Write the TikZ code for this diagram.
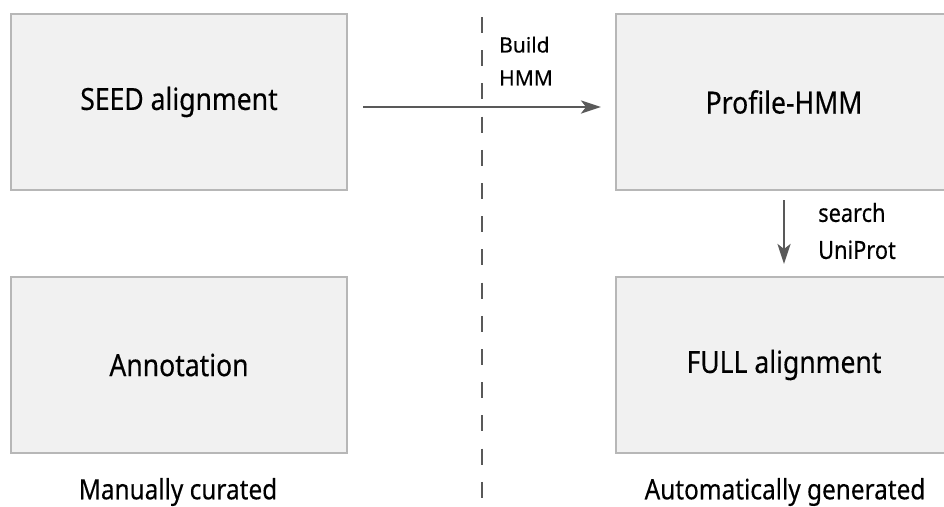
\documentclass[tikz,border=0pt]{standalone}
\usepackage{fontspec}
\setmainfont[FakeBold=0.25]{Noto Sans}
\newfontfamily\condfont[FakeStretch=0.87,FakeBold=0.3]{Noto Sans}
\usetikzlibrary{arrows.meta}
\definecolor{boxfill}{HTML}{F1F1F1}
\definecolor{boxline}{HTML}{B7B7B7}
\definecolor{linkgray}{HTML}{595959}
\tikzset{
  stage/.style={draw=boxline, line width=2pt, fill=boxfill,
    minimum width=336pt, minimum height=176pt, inner sep=0pt,
    font=\condfont\fontsize{30.5}{36}\selectfont},
  flow/.style={draw=linkgray, line width=2.6pt,
    -{Stealth[length=20pt,width=13pt,inset=5pt]}},
  divider/.style={draw=linkgray, line width=2.6pt, dash pattern=on 16pt off 17.2pt},
  steplabel/.style={anchor=west, align=left, inner sep=0pt},
  sidelabel/.style={font=\condfont\fontsize{28}{32}\selectfont, inner sep=0pt}
}
\begin{document}
\begin{tikzpicture}[x=1pt, y=-1pt]
  \useasboundingbox (0,0) rectangle (944,506);
  \begin{scope}
    \clip (0,0) rectangle (944,506);
    % curated side
    \node[stage] (seed) at (179,102) {SEED alignment};
    \node[stage] (annot) at (179,365) {Annotation};
    % generated side
    \node[stage] (prof) at (784,102) {Profile-HMM};
    \node[stage] (full) at (784,365) {FULL alignment};
  \end{scope}

  % divider between the two halves
  \coordinate (divtop) at (482,17);
  \coordinate (divbot) at (482,498);
  \draw[divider] (divtop) -- (divbot);

  % build step
  \draw[flow] ([xshift=15pt,yshift=-5pt]seed.east) -- ([xshift=-14pt,yshift=-5pt]prof.west);
  \node[steplabel, font=\fontsize{21}{33}\selectfont] (build) at (499,61) {Build\\HMM};

  % search step
  \draw[flow] ([yshift=-9pt]prof.south) -- ([yshift=12pt]full.north);
  \node[steplabel, font=\condfont\fontsize{25}{37}\selectfont] (search) at (818,231) {search\\UniProt};

  % side captions
  \node[sidelabel] (manual) at (178,492) {Manually curated};
  \node[sidelabel] (auto) at (785,492) {Automatically generated};
\end{tikzpicture}
\end{document}
